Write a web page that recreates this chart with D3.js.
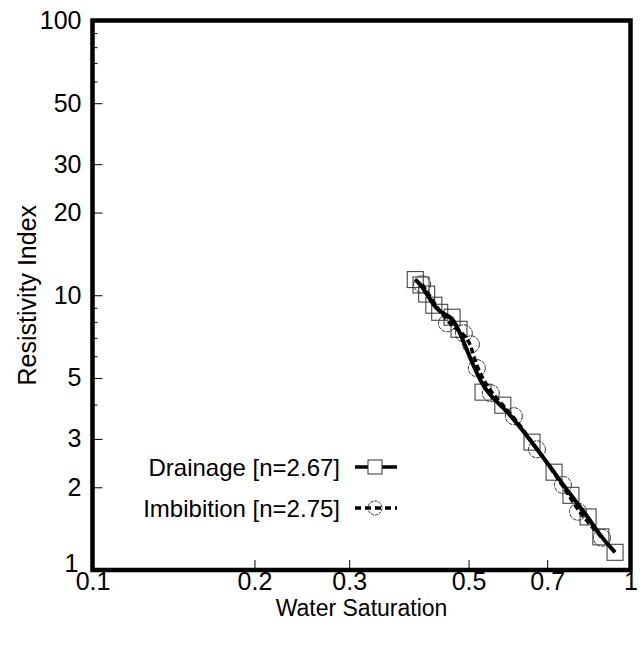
<!DOCTYPE html>
<html>
<head>
<meta charset="utf-8">
<script src="https://cdn.jsdelivr.net/npm/d3@7"></script>
<style>
  body { margin: 0; background: #fff; }
  svg { font-family: "Liberation Sans", Arial, Helvetica, sans-serif; }
</style>
</head>
<body>
<div id="chart"></div>
<script>
// drainage (squares)
const drainSw = [0.398, 0.408, 0.418, 0.431, 0.442, 0.466, 0.480, 0.532, 0.579, 0.656, 0.721, 0.775, 0.834, 0.881, 0.936];
const drainRI = [11.4, 10.9, 10.1, 9.2, 8.67, 8.32, 7.52, 4.44, 3.98, 2.92, 2.27, 1.87, 1.56, 1.32, 1.16];
// imbibition (circles)
const imbSw = [0.410, 0.456, 0.490, 0.505, 0.518, 0.550, 0.607, 0.670, 0.749, 0.799, 0.885];
const imbRI = [10.96, 7.91, 7.27, 6.63, 5.43, 4.40, 3.63, 2.75, 2.04, 1.63, 1.31];

const xLabelTicks = [0.1, 0.2, 0.3, 0.5, 0.7, 1];
const yLabelTicks = [1, 2, 3, 5, 10, 20, 30, 50, 100];
const yMinorTicks = [4, 6, 7, 8, 9, 60, 70, 80, 90];
const legendNames = ["Drainage [n=2.67]", "Imbibition [n=2.75]"];

const width = 642, height = 645;
const margin = { top: 20.5, right: 11.5, bottom: 75, left: 92.5 };

const svg = d3.select("#chart").append("svg")
    .attr("width", width)
    .attr("height", height);

const x = d3.scaleLog().domain([0.1, 1]).range([margin.left, width - margin.right]);
const y = d3.scaleLog().domain([1, 100]).range([height - margin.bottom, margin.top]);

const fmt = d => String(d);

// y axis
const yAxis = svg.append("g")
    .attr("transform", `translate(${margin.left},0)`)
    .call(d3.axisLeft(y).tickValues(yLabelTicks).tickFormat(fmt).tickSize(-10).tickPadding(11));
yAxis.select(".domain").remove();
yAxis.selectAll("text")
    .attr("font-size", 25)
    .attr("fill", "#000")
    .attr("x", d => d === 1 ? -14 : -11)
    .attr("y", d => d === 1 ? -7 : 0);
yAxis.selectAll("line").attr("stroke-width", 1);

const yMinor = svg.append("g")
    .attr("transform", `translate(${margin.left},0)`)
    .call(d3.axisLeft(y).tickValues(yMinorTicks).tickFormat("").tickSize(-5));
yMinor.select(".domain").remove();

// x axis
const xAxis = svg.append("g")
    .attr("transform", `translate(0,${height - margin.bottom})`)
    .call(d3.axisBottom(x).tickValues(xLabelTicks).tickFormat(fmt).tickSize(-10).tickPadding(2));
xAxis.select(".domain").remove();
xAxis.selectAll("text").attr("font-size", 25).attr("fill", "#000");
xAxis.selectAll("line").attr("stroke-width", 1);

// frame
svg.append("rect")
    .attr("x", margin.left)
    .attr("y", margin.top)
    .attr("width", width - margin.left - margin.right)
    .attr("height", height - margin.top - margin.bottom)
    .attr("fill", "none")
    .attr("stroke", "#000")
    .attr("stroke-width", 4.5);

// axis titles
svg.append("text")
    .attr("x", (margin.left + width - margin.right) / 2)
    .attr("y", 616)
    .attr("text-anchor", "middle")
    .attr("font-size", 23)
    .text("Water Saturation");

svg.append("text")
    .attr("transform", `translate(36,${(margin.top + height - margin.bottom) / 2}) rotate(-90)`)
    .attr("text-anchor", "middle")
    .attr("font-size", 25)
    .text("Resistivity Index");

const drain = drainSw.map((d, i) => ({ sw: d, ri: drainRI[i] }));
const imb = imbSw.map((d, i) => ({ sw: d, ri: imbRI[i] }));

const line = d3.line()
    .x(d => x(d.sw))
    .y(d => y(d.ri))
    .curve(d3.curveBasis);

// markers
svg.append("g")
    .selectAll("rect")
    .data(drain)
    .join("rect")
    .attr("x", d => x(d.sw) - 8)
    .attr("y", d => y(d.ri) - 8)
    .attr("width", 16)
    .attr("height", 16)
    .attr("fill", "none")
    .attr("stroke", "#333")
    .attr("stroke-width", 1);

svg.append("g")
    .selectAll("circle")
    .data(imb)
    .join("circle")
    .attr("cx", d => x(d.sw))
    .attr("cy", d => y(d.ri))
    .attr("r", 8.5)
    .attr("fill", "none")
    .attr("stroke", "#333")
    .attr("stroke-width", 1)
    .attr("stroke-dasharray", "4,1");

// lines
svg.append("path")
    .datum(imb)
    .attr("d", line)
    .attr("fill", "none")
    .attr("stroke", "#000")
    .attr("stroke-width", 3.5)
    .attr("stroke-dasharray", "6,3");

svg.append("path")
    .datum(drain)
    .attr("d", line)
    .attr("fill", "none")
    .attr("stroke", "#000")
    .attr("stroke-width", 4);

// legend
const legend = svg.append("g");
const legY = [467, 508];
legendNames.forEach((name, i) => {
    const g = legend.append("g").attr("transform", `translate(0,${legY[i]})`);
    g.append("text")
        .attr("x", 340)
        .attr("y", 8.5)
        .attr("text-anchor", "end")
        .attr("font-size", 24)
        .text(name);
    g.append("line")
        .attr("x1", 355).attr("x2", 397)
        .attr("stroke", "#000")
        .attr("stroke-width", 3.5)
        .attr("stroke-dasharray", i === 0 ? null : "6,4");
    if (i === 0) {
        g.append("rect")
            .attr("x", 368).attr("y", -7).attr("width", 14).attr("height", 14)
            .attr("fill", "#fff").attr("stroke", "#333").attr("stroke-width", 1);
    } else {
        g.append("circle")
            .attr("cx", 375).attr("r", 7)
            .attr("fill", "none").attr("stroke", "#333").attr("stroke-width", 1)
            .attr("stroke-dasharray", "3,1");
    }
});
</script>
</body>
</html>
